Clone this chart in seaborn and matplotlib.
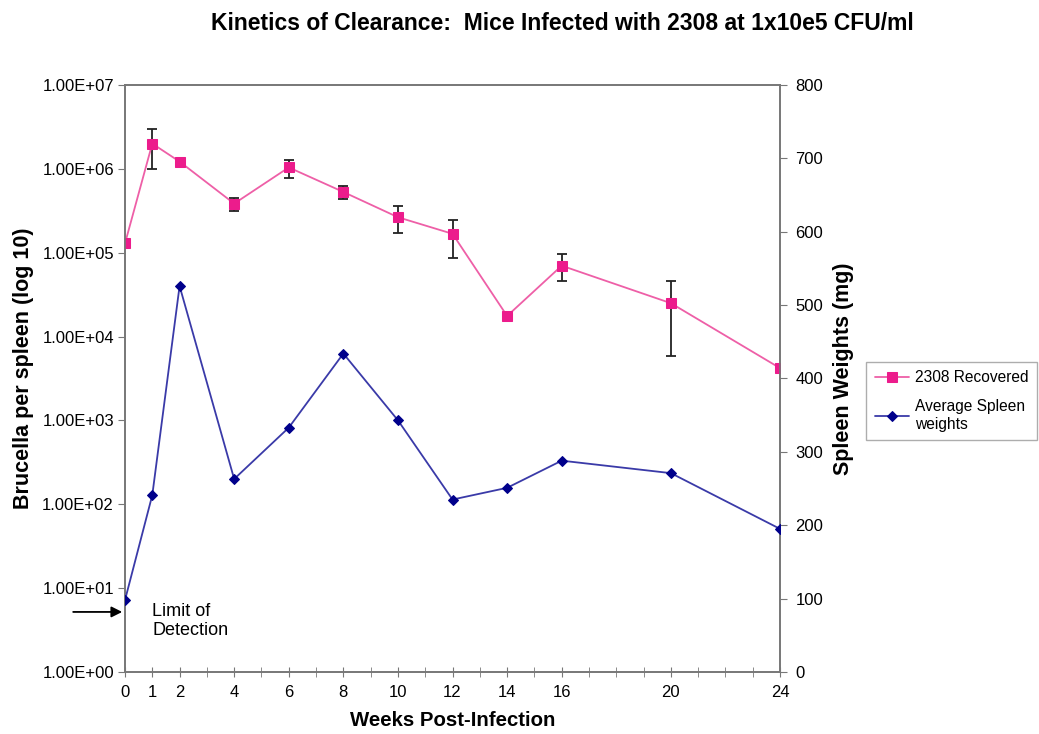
import matplotlib
matplotlib.use("Agg")
import matplotlib.pyplot as plt
import seaborn as sns
import numpy as np
import pandas as pd
from matplotlib.ticker import FixedLocator, FuncFormatter, MultipleLocator

# ---- data ----
weeks = [0, 1, 2, 4, 6, 8, 10, 12, 14, 16, 20, 24]
recovered = [1.29e5, 2.0e6, 1.22e6, 3.85e5, 1.04e6, 5.3e5, 2.65e5, 1.68e5, 1.76e4, 7.0e4, 2.5e4, 4.2e3]
recovered_hi = [1.29e5, 3.0e6, 1.27e6, 4.5e5, 1.28e6, 6.27e5, 3.65e5, 2.46e5, 1.8e4, 9.7e4, 4.56e4, 4.6e3]
recovered_lo = [1.29e5, 1.0e6, 1.17e6, 3.12e5, 7.8e5, 4.38e5, 1.7e5, 8.7e4, 1.72e4, 4.56e4, 5.8e3, 3.85e3]
spleen_wt = [98, 241, 526, 263, 333, 434, 343, 235, 251, 288, 271, 195]
x_tick_labels = ["0", "1", "2", "4", "6", "8", "10", "12", "14", "16", "20", "24"]
left_ticks = [1e0, 1e1, 1e2, 1e3, 1e4, 1e5, 1e6, 1e7]
right_ticks = [0, 100, 200, 300, 400, 500, 600, 700, 800]
detection_limit = 5.2

df = pd.DataFrame({"week": weeks, "recovered": recovered, "spleen": spleen_wt})

sns.set_style("white")
plt.rcParams["font.family"] = ["Liberation Sans", "DejaVu Sans"]
plt.rcParams["text.color"] = "black"
plt.rcParams["axes.labelcolor"] = "black"

fig = plt.figure(figsize=(10.39, 7.34), dpi=100)
ax = fig.add_axes([0.1203, 0.0845, 0.6305, 0.7997])
ax2 = ax.twinx()

pink_line = "#EE5FA7"
pink_mark = "#EC1C8C"
blue_line = "#3A3AA8"
blue_mark = "#00008B"

# error bars
yerr = [np.array(recovered) - np.array(recovered_lo), np.array(recovered_hi) - np.array(recovered)]
ax.errorbar(weeks, recovered, yerr=yerr, fmt="none", ecolor="#222222", elinewidth=1.3,
            capsize=3.8, capthick=1.3, zorder=2)

sns.lineplot(data=df, x="week", y="recovered", ax=ax, color=pink_line, linewidth=1.3,
             marker="s", markersize=6.5, markerfacecolor=pink_mark, markeredgecolor=pink_mark,
             zorder=3, label="2308 Recovered", legend=False)
sns.lineplot(data=df, x="week", y="spleen", ax=ax2, color=blue_line, linewidth=1.3,
             marker="D", markersize=5, markerfacecolor=blue_mark, markeredgecolor=blue_mark,
             zorder=3, label="Average Spleen\nweights", legend=False)

ax.set_yscale("log")
ax.set_ylim(1, 1e7)
ax.set_xlim(0, 24)
ax2.set_ylim(0, 800)

ax.yaxis.set_major_locator(FixedLocator(left_ticks))
ax.yaxis.set_minor_locator(FixedLocator([]))
ax.yaxis.set_major_formatter(FuncFormatter(lambda v, p: "%.2fE+%02d" % (1.0, int(round(np.log10(v))))))
ax2.yaxis.set_major_locator(FixedLocator(right_ticks))

ax.xaxis.set_major_locator(FixedLocator(weeks))
ax.set_xticklabels(x_tick_labels)
ax.xaxis.set_minor_locator(MultipleLocator(1))

for a in (ax, ax2):
    for s in a.spines.values():
        s.set_color("#777777")
        s.set_linewidth(1.2)
    a.tick_params(axis="both", which="both", colors="#777777", labelcolor="black", labelsize=12)
ax.tick_params(axis="y", which="major", direction="out", length=5, left=True, pad=3)
ax.tick_params(axis="x", which="both", direction="inout", length=7, bottom=True, pad=6)
ax2.tick_params(axis="y", direction="out", length=5, right=True, pad=6)

ax.set_xlabel("Weeks Post-Infection", fontsize=14.7, fontweight="bold", labelpad=8)
ax.set_ylabel("Brucella per spleen (log 10)", fontsize=15.5, fontweight="bold")
ax2.set_ylabel("Spleen Weights (mg)", fontsize=15.5, fontweight="bold")
ax.yaxis.set_label_coords(-0.139, 0.518)
ax2.yaxis.set_label_coords(1.081, 0.517)
ax.grid(False)
ax2.grid(False)

fig.suptitle("Kinetics of Clearance:  Mice Infected with 2308 at 1x10e5 CFU/ml",
             fontsize=16.5, fontweight="bold", y=0.983, x=0.541, color="black")

# limit of detection arrow
ax.annotate("", xy=(0, detection_limit), xytext=(-2.0, detection_limit),
            arrowprops=dict(arrowstyle="-|>", color="black", lw=1.3, mutation_scale=16),
            annotation_clip=False)
ax.text(1.0, detection_limit * 1.28, "Limit of\nDetection", fontsize=13, va="top", ha="left",
        linespacing=1.15)

# legend
h1, l1 = ax.get_legend_handles_labels()
h2, l2 = ax2.get_legend_handles_labels()
leg = fig.legend(h1 + h2, l1 + l2, loc="upper left", bbox_to_anchor=(0.8335, 0.507),
                 frameon=True, fancybox=False, edgecolor="#999999", fontsize=11.2,
                 handlelength=2.2, handletextpad=0.4, labelspacing=0.9, borderpad=0.55,
                 borderaxespad=0.0)
leg.get_frame().set_linewidth(1.0)

fig.savefig("out.png", dpi=100, facecolor="white")
